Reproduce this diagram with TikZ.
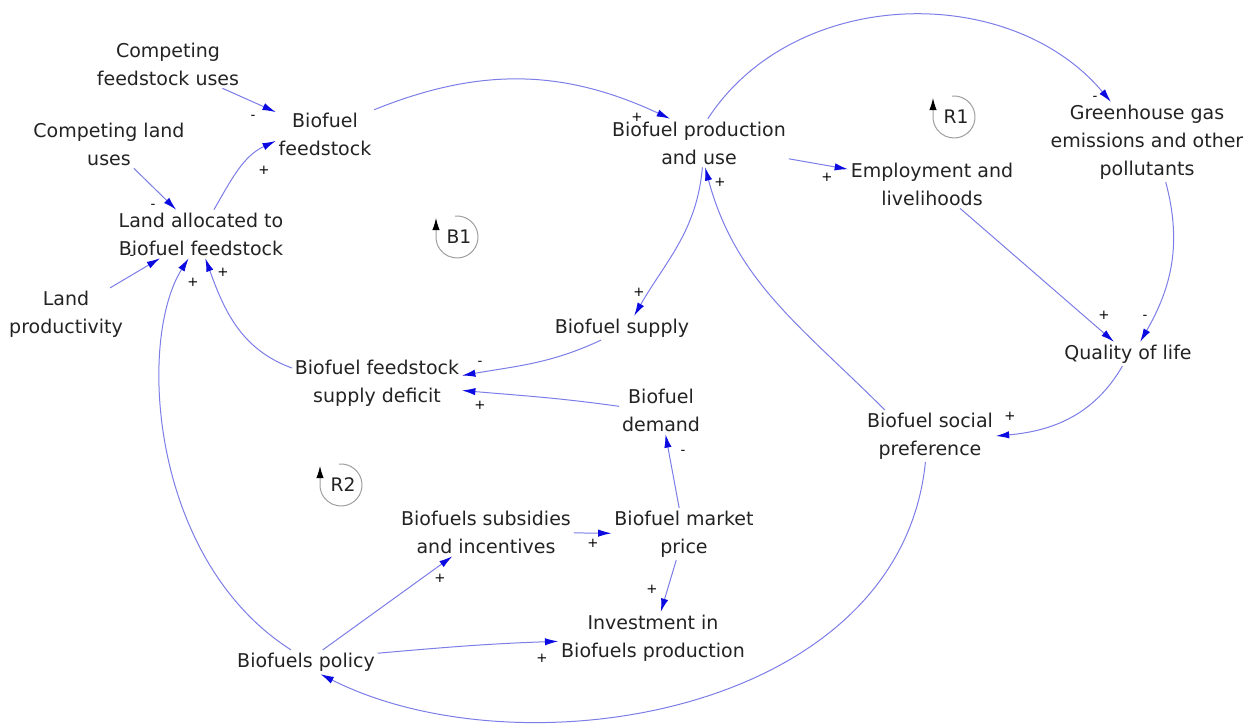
\documentclass[tikz,border=0pt]{standalone}
\usepackage{fontspec}
\setmainfont{DejaVu Sans}
\usetikzlibrary{arrows.meta}
\definecolor{linkblue}{RGB}{125,125,232}
\definecolor{headblue}{RGB}{10,10,225}
\definecolor{txt}{RGB}{35,35,35}
\begin{document}
\begin{tikzpicture}[x=0.75pt,y=0.75pt,
  var/.style={text=txt, align=center, inner sep=2pt, font=\fontsize{14.25pt}{21pt}\selectfont},
  link/.style={draw=linkblue, line width=0.75pt, -{Latex[length=10pt,width=5.5pt,color=headblue]}},
  pol/.style={text=black, inner sep=0pt, font=\fontsize{10pt}{10pt}\selectfont},
  loopc/.style={draw=gray!75, line width=0.75pt, -{Latex[length=9pt,width=5.5pt,color=black]}},
  looplbl/.style={text=txt, inner sep=0pt, font=\fontsize{14pt}{14pt}\selectfont}
]
\useasboundingbox[fill=white] (0,0) rectangle (1255,-724);

% variables
\node[var] (cfu)   at (168,-64)  {Competing\\feedstock uses};
\node[var] (bf)    at (325,-134) {Biofuel\\feedstock};
\node[var] (clu)   at (109,-144) {Competing land\\uses};
\node[var] (laf)   at (201,-234) {Land allocated to\\Biofuel feedstock};
\node[var] (lp)    at (66,-314)  {Land\\productivity};
\node[var] (prod)  at (699,-143) {Biofuel production\\and use};
\node[var] (emp)   at (932,-184) {Employment and\\livelihoods};
\node[var] (ghg)   at (1147,-142) {Greenhouse gas\\emissions and other\\pollutants};
\node[var] (qol)   at (1128,-354) {Quality of life};
\node[var] (sup)   at (622,-328) {Biofuel supply};
\node[var] (def)   at (377,-383) {Biofuel feedstock\\supply deficit};
\node[var] (dem)   at (661,-410) {Biofuel\\demand};
\node[var] (bsp)   at (930,-436) {Biofuel social\\preference};
\node[var] (sub)   at (486,-532) {Biofuels subsidies\\and incentives};
\node[var] (price) at (684,-534) {Biofuel market\\price};
\node[var] (inv)   at (653,-638) {Investment in\\Biofuels production};
\node[var] (pol)   at (306,-662) {Biofuels policy};

% causal links
\draw[link] (cfu) -- (bf);
\draw[link] (laf.62) to[out=60,in=205] (bf.188);
\draw[link] (clu) -- (laf);
\draw[link] (lp) -- (laf);
\draw[link] (bf.north east) to[out=22,in=155] (prod.140);
\draw[link] (prod.70) to[out=57,in=130] (ghg.132);
\draw[link] (prod) -- (emp);
\draw[link] (emp) -- (qol);
\draw[link] (ghg.-65) to[out=-75,in=60] (qol.45);
\draw[link] (qol.-115) to[out=-120,in=5] (bsp.east);
\draw[link] (bsp.150) to[out=135,in=-75] (prod.-76);
\draw[link] (prod.-82) to[out=-95,in=60] (sup.45);
\draw[link] (sup.-150) to[out=-155,in=10] (def.5);
\draw[link] (dem.175) to[out=172,in=-5] (def.-5);
\draw[link] (def.170) to[out=160,in=-70] (laf.-80);
\draw[link] (pol.141) .. controls (150,-560) and (137,-340) .. (laf.-117);
\draw[link] (pol) -- (sub);
\draw[link] (pol.7) to[out=5,in=182] (inv.182);
\draw[link] (sub) -- (price);
\draw[link] (price) -- (dem);
\draw[link] (price) -- (inv);
\draw[link] (bsp.-100) .. controls (900,-715) and (520,-775) .. (pol.-40);

% polarities
\node[pol] (p1)  at (253,-117) {-};
\node[pol] (p2)  at (264,-170) {+};
\node[pol] (p3)  at (153,-206) {-};
\node[pol] (p4)  at (132,-257) {-};
\node[pol] (p5)  at (223,-272) {+};
\node[pol] (p6)  at (193,-282) {+};
\node[pol] (p7)  at (637,-117) {+};
\node[pol] (p8)  at (720,-182) {+};
\node[pol] (p9)  at (639,-292) {+};
\node[pol] (p10) at (827,-177) {+};
\node[pol] (p11) at (1095,-98) {-};
\node[pol] (p12) at (1104,-315) {+};
\node[pol] (p13) at (1145,-317) {-};
\node[pol] (p14) at (1010,-416) {+};
\node[pol] (p15) at (480,-363) {-};
\node[pol] (p16) at (480,-405) {+};
\node[pol] (p17) at (683,-452) {-};
\node[pol] (p18) at (593,-543) {+};
\node[pol] (p19) at (440,-578) {+};
\node[pol] (p20) at (652,-589) {+};
\node[pol] (p21) at (542,-658) {+};

% loop markers: open circle ending in an upward arrow on its left side
\node[looplbl] (b1) at (459,-237) {B1};
\draw[loopc] (b1.center) ++(-2,0) ++(95:21) arc[start angle=95, end angle=-180, radius=21] -- ++(0,19);
\node[looplbl] (r1) at (956,-117) {R1};
\draw[loopc] (r1.center) ++(-2,0) ++(95:21) arc[start angle=95, end angle=-180, radius=21] -- ++(0,19);
\node[looplbl] (r2) at (343,-485) {R2};
\draw[loopc] (r2.center) ++(-2,0) ++(95:21) arc[start angle=95, end angle=-180, radius=21] -- ++(0,19);
\end{tikzpicture}
\end{document}
